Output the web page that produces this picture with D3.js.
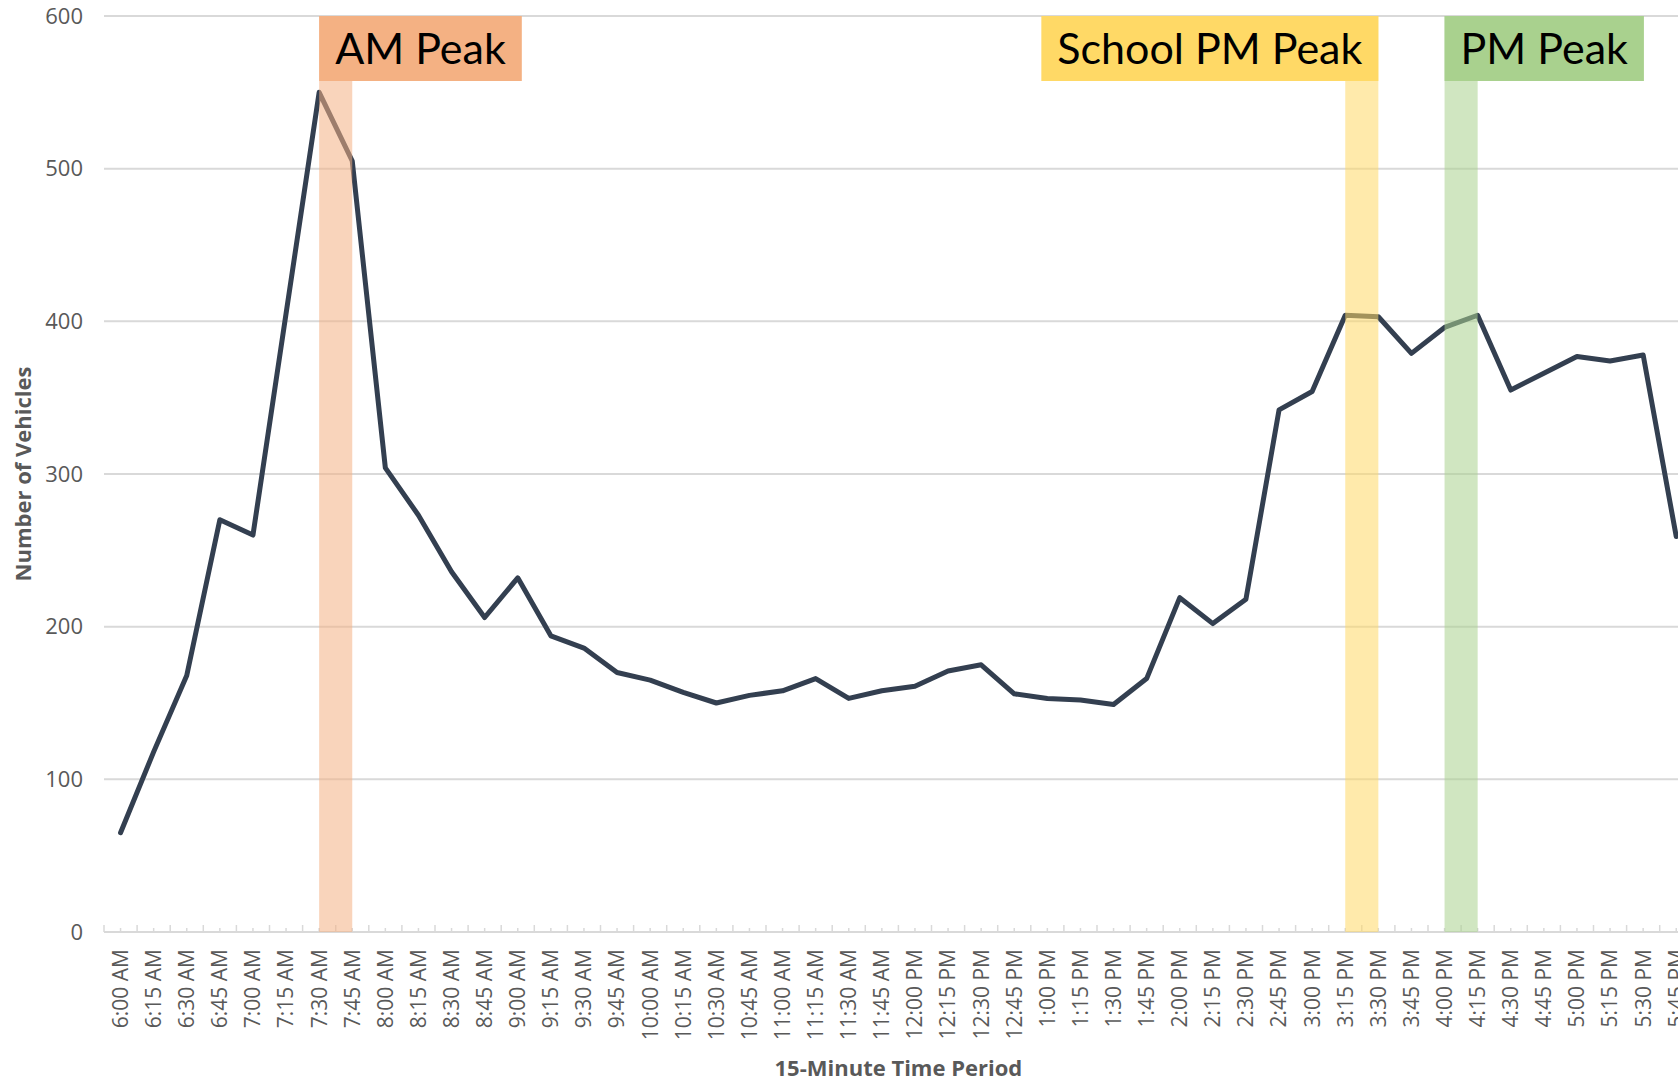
<!DOCTYPE html>
<html>
<head>
<meta charset="utf-8">
<script src="https://cdn.jsdelivr.net/npm/d3@7"></script>
<style>
  html, body { margin: 0; padding: 0; background: #fff; overflow: hidden; }
</style>
</head>
<body>
<script>
// categories (15-minute periods)
var periods = ["6:00 AM","6:15 AM","6:30 AM","6:45 AM","7:00 AM","7:15 AM","7:30 AM","7:45 AM",
  "8:00 AM","8:15 AM","8:30 AM","8:45 AM","9:00 AM","9:15 AM","9:30 AM","9:45 AM",
  "10:00 AM","10:15 AM","10:30 AM","10:45 AM","11:00 AM","11:15 AM","11:30 AM","11:45 AM",
  "12:00 PM","12:15 PM","12:30 PM","12:45 PM","1:00 PM","1:15 PM","1:30 PM","1:45 PM",
  "2:00 PM","2:15 PM","2:30 PM","2:45 PM","3:00 PM","3:15 PM","3:30 PM","3:45 PM",
  "4:00 PM","4:15 PM","4:30 PM","4:45 PM","5:00 PM","5:15 PM","5:30 PM","5:45 PM"];
// number of vehicles
var vehicles = [65,118,168,270,260,405,550,505,304,273,236,206,232,194,186,170,
  165,157,150,155,158,166,153,158,161,171,175,156,153,152,149,166,
  219,202,218,342,354,404,403,379,396,404,355,366,377,374,378,259];
var yTicks = [0,100,200,300,400,500,600];
// peak periods
var peakNames = ["AM Peak","School PM Peak","PM Peak"];
var peakFrom = ["7:30 AM","3:15 PM","4:00 PM"];
var peakTo = ["7:45 AM","3:30 PM","4:15 PM"];

// layout / style
var width = 1678, height = 1081;
var margin = { top: 16, left: 104, bottom: 149 };
var step = 33.1;
var peakColors = ["#F4B183","#FFD966","#A9D18E"];
var peakAlign = ["left","right","left"];
var gridColor = "#D9D9D9", textColor = "#595959", lineColor = "#333F50";

var svg = d3.select('body').append('svg')
  .attr('width', width)
  .attr('height', height)
  .style('font-family', '"Open Sans", sans-serif');

var x = d3.scaleBand()
  .domain(periods)
  .range([margin.left, margin.left + step * periods.length])
  .padding(0);
var cx = d => x(d) + x.bandwidth() / 2;

var y = d3.scaleLinear()
  .domain([0, 600])
  .range([height - margin.bottom, margin.top]);

// gridlines
svg.append('g').attr('class', 'grid')
  .selectAll('line')
  .data(yTicks.filter(d => d > 0))
  .join('line')
  .attr('x1', margin.left).attr('x2', width)
  .attr('y1', d => y(d)).attr('y2', d => y(d))
  .attr('stroke', gridColor).attr('stroke-width', 2);

// y axis labels
var yAxis = svg.append('g')
  .attr('transform', `translate(${margin.left - 21},0)`)
  .call(d3.axisLeft(y).tickValues(yTicks).tickSize(0).tickPadding(0));
yAxis.select('.domain').remove();
yAxis.selectAll('text')
  .attr('fill', textColor)
  .style('font-size', '22px')
  .style('font-family', '"Open Sans", sans-serif');

// x axis line + ticks
var y0 = y(0);
var xg = svg.append('g').attr('class', 'xaxis');
xg.append('line')
  .attr('x1', margin.left).attr('x2', width)
  .attr('y1', y0).attr('y2', y0)
  .attr('stroke', gridColor).attr('stroke-width', 2);
// major ticks on category boundaries
xg.selectAll('line.major')
  .data(periods.concat(['end']))
  .join('line')
  .attr('class', 'major')
  .attr('x1', (d, i) => margin.left + i * x.bandwidth())
  .attr('x2', (d, i) => margin.left + i * x.bandwidth())
  .attr('y1', y0).attr('y2', y0 - 7)
  .attr('stroke', gridColor).attr('stroke-width', 1.5);
// minor ticks at centres
xg.selectAll('line.minor')
  .data(periods)
  .join('line')
  .attr('class', 'minor')
  .attr('x1', d => cx(d)).attr('x2', d => cx(d))
  .attr('y1', y0).attr('y2', y0 - 4)
  .attr('stroke', gridColor).attr('stroke-width', 1.5);
// tick labels
xg.selectAll('text')
  .data(periods)
  .join('text')
  .attr('transform', d => `translate(${cx(d)},${y0 + 17}) rotate(-90)`)
  .attr('text-anchor', 'end')
  .attr('dy', '0.35em')
  .attr('fill', textColor)
  .style('font-size', '21px')
  .text(d => d);

// line
var line = d3.line()
  .x((d, i) => cx(periods[i]))
  .y(d => y(d));
svg.append('path')
  .datum(vehicles)
  .attr('d', line)
  .attr('fill', 'none')
  .attr('stroke', lineColor)
  .attr('stroke-width', 5)
  .attr('stroke-linejoin', 'round')
  .attr('stroke-linecap', 'round');

// peak bands (drawn over the line, semi transparent)
var peaks = peakNames.map((name, i) => ({ name: name, from: peakFrom[i], to: peakTo[i], color: peakColors[i], align: peakAlign[i] }));
svg.append('g').selectAll('rect')
  .data(peaks)
  .join('rect')
  .attr('x', d => cx(d.from))
  .attr('width', d => cx(d.to) - cx(d.from))
  .attr('y', y(600))
  .attr('height', y(0) - y(600))
  .attr('fill', d => d.color)
  .attr('fill-opacity', 0.55);

// peak labels
var labelH = 65, pad = 16;
var lbl = svg.append('g').selectAll('g')
  .data(peaks)
  .join('g');
lbl.append('rect').attr('fill', d => d.color);
lbl.append('text')
  .style('font-family', 'Lato, "Open Sans", sans-serif')
  .style('font-size', '43px')
  .attr('fill', '#000')
  .attr('y', y(600) + 48)
  .text(d => d.name);
lbl.each(function (d) {
  var g = d3.select(this);
  var w = g.select('text').node().getComputedTextLength() + pad * 2;
  var left = d.align === 'left' ? cx(d.from) : cx(d.to) - w;
  g.select('rect').attr('x', left).attr('y', y(600)).attr('width', w).attr('height', labelH);
  g.select('text').attr('x', left + pad);
});

// axis titles
svg.append('text')
  .attr('transform', `translate(${margin.left + step * periods.length / 2},1068)`)
  .attr('text-anchor', 'middle')
  .attr('dy', '0.35em')
  .attr('fill', textColor)
  .style('font-size', '22px')
  .style('font-weight', 'bold')
  .text('15-Minute Time Period');
svg.append('text')
  .attr('transform', `translate(23,${(y(0) + y(600)) / 2}) rotate(-90)`)
  .attr('text-anchor', 'middle')
  .attr('dy', '0.35em')
  .attr('fill', textColor)
  .style('font-size', '22px')
  .style('font-weight', 'bold')
  .text('Number of Vehicles');
</script>
</body>
</html>
